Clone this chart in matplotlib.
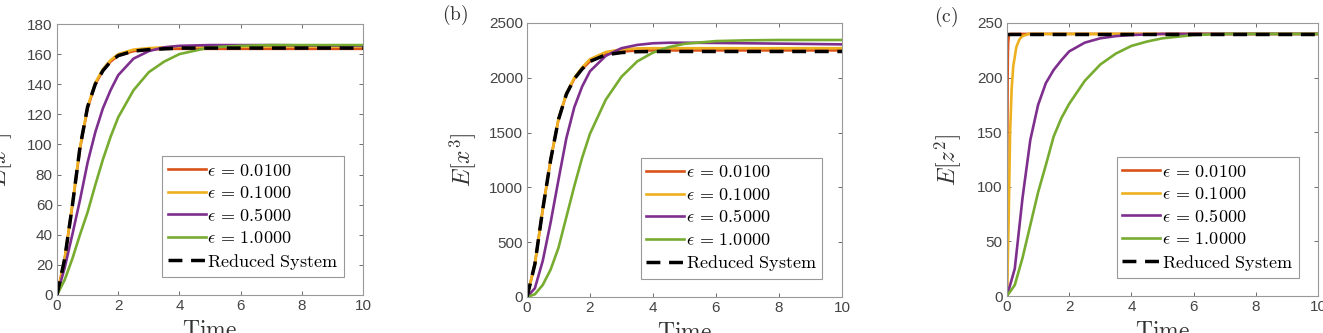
import matplotlib
matplotlib.use("Agg")
import matplotlib.pyplot as plt
import numpy as np

plt.rcParams['mathtext.fontset'] = 'cm'

# ---------------- data ----------------
labels = [r'$\epsilon\, =\, 0.0100$', r'$\epsilon\, =\, 0.1000$',
          r'$\epsilon\, =\, 0.5000$', r'$\epsilon\, =\, 1.0000$',
          r'$\mathrm{Reduced\ System}$']

# Panel (a): E[x^2]
ta = [0, 0.25, 0.5, 0.75, 1.0, 1.25, 1.5, 1.75, 2.0, 2.5, 3.0, 3.5, 4.0, 5.0, 6.0, 7.0, 8.0, 10.0]
a_eps001 = [0, 24, 59, 97, 124, 140, 149, 155, 159, 162, 163, 163.5, 163.5, 163.5, 163.5, 163.5, 163.5, 163.5]
a_eps01 = [0, 24, 60, 98, 125, 141, 150, 156, 160, 163, 164, 164.5, 165, 165, 165, 165, 165, 165]
a_eps05 = [0, 18, 40, 63, 88, 108, 124, 136, 146, 157, 162, 164.5, 165.5, 166, 166, 166, 165.8, 165.5]
a_eps1 = [0, 10, 24, 40, 55, 73, 90, 105, 118, 136, 148, 155, 160, 164.5, 165.5, 166, 166, 166]
a_red = [0, 24, 59, 98, 125, 140, 149, 155, 159, 162, 163, 163.5, 164, 164, 164, 164, 164, 164]

# Panel (b): E[x^3]
tb = [0, 0.25, 0.5, 0.75, 1.0, 1.25, 1.5, 1.75, 2.0, 2.5, 3.0, 3.5, 4.0, 4.5, 5.0, 6.0, 7.0, 8.0, 10.0]
b_eps001 = [0, 300, 800, 1250, 1620, 1850, 1990, 2080, 2150, 2215, 2240, 2248, 2250, 2250, 2250, 2250, 2250, 2250, 2250]
b_eps01 = [0, 300, 800, 1250, 1625, 1860, 2000, 2095, 2170, 2235, 2260, 2268, 2270, 2270, 2270, 2270, 2270, 2270, 2270]
b_eps05 = [0, 80, 330, 680, 1070, 1450, 1730, 1920, 2060, 2200, 2270, 2300, 2315, 2320, 2320, 2318, 2315, 2312, 2305]
b_eps1 = [0, 25, 110, 250, 450, 730, 1010, 1270, 1490, 1800, 2010, 2150, 2230, 2280, 2310, 2335, 2342, 2345, 2345]
b_red = [0, 300, 800, 1250, 1620, 1850, 1990, 2080, 2150, 2210, 2230, 2238, 2240, 2240, 2240, 2240, 2240, 2240, 2240]

# Panel (c): E[z^2]
tc_fast = [0, 0.01, 0.02, 0.03, 0.04, 0.06, 0.08, 0.1, 0.2, 10.0]
c_eps001 = [0, 140, 200, 224, 233, 238.5, 239.5, 240, 240, 240]
tc_mid = [0, 0.05, 0.1, 0.15, 0.2, 0.3, 0.4, 0.5, 0.7, 1.0, 10.0]
c_eps01 = [0, 65, 150, 190, 210, 228, 235, 238, 240, 240, 240]
tc = [0, 0.25, 0.5, 0.75, 1.0, 1.25, 1.5, 1.75, 2.0, 2.5, 3.0, 3.5, 4.0, 4.5, 5.0, 6.0, 7.0, 10.0]
c_eps05 = [0, 25, 90, 143, 175, 195, 207, 216, 224, 232, 236, 238, 239, 239.5, 240, 240, 240, 240]
c_eps1 = [0, 10, 35, 65, 95, 120, 146, 163, 176, 197, 212, 222, 229, 233, 236, 239, 240, 240]
tc_red = [0, 10.0]
c_red = [240, 240]

colors = ['#D95319', '#EDB120', '#7E2F8E', '#77AC30']

W, H = 1323, 333
fig = plt.figure(figsize=(W / 100, H / 100), dpi=100)

def axes_px(x0, x1, y0, y1):
    return fig.add_axes([x0 / W, 1 - y1 / H, (x1 - x0) / W, (y1 - y0) / H])

axA = axes_px(57, 363, 24, 295)
axB = axes_px(527, 842, 23, 297)
axC = axes_px(1007, 1318, 23, 296)

panels = [
    (axA, [(ta, a_eps001), (ta, a_eps01), (ta, a_eps05), (ta, a_eps1)], (ta, a_red),
     (0, 180), np.arange(0, 181, 20), r'$E[x^2]$', -0.14),
    (axB, [(tb, b_eps001), (tb, b_eps01), (tb, b_eps05), (tb, b_eps1)], (tb, b_red),
     (0, 2500), np.arange(0, 2501, 500), r'$E[x^3]$', -0.155),
    (axC, [(tc_fast, c_eps001), (tc_mid, c_eps01), (tc, c_eps05), (tc, c_eps1)], (tc_red, c_red),
     (0, 250), np.arange(0, 251, 50), r'$E[z^2]$', -0.141),
]

for ax, series, red, ylim, yticks, ylab, ylx in panels:
    handles = []
    for (t, v), col in zip(series, colors):
        h, = ax.plot(t, v, color=col, lw=1.9)
        handles.append(h)
    h, = ax.plot(red[0], red[1], color='black', lw=2.5, ls=(0, (4, 2.5)))
    handles.append(h)
    ax.set_xlim(0, 10)
    ax.set_ylim(*ylim)
    ax.set_xticks(np.arange(0, 11, 2))
    ax.set_yticks(yticks)
    ax.tick_params(direction='in', top=True, right=True, length=3, width=0.6,
                   color='#555555', labelcolor='#444444', labelsize=11, pad=3)
    for lab in ax.get_xticklabels() + ax.get_yticklabels():
        lab.set_fontfamily('Liberation Sans')
    for s in ax.spines.values():
        s.set_color('#999999')
        s.set_linewidth(0.8)
    ax.set_xlabel(r'$\mathrm{Time}$', fontsize=17, color='#333333')
    ax.xaxis.set_label_coords(0.5, -0.084)
    ax.xaxis.label.set_va('top')
    ax.set_ylabel(ylab, fontsize=17, color='#333333')
    ax.yaxis.set_label_coords(ylx, 0.5)
    leg = ax.legend(handles, labels, loc='lower right', bbox_to_anchor=(0.938, 0.066),
                    borderaxespad=0, fontsize=13, handlelength=2.1, handletextpad=0.1,
                    labelspacing=0.25, borderpad=0.3, fancybox=False, framealpha=1,
                    edgecolor='#999999')
    leg.get_frame().set_linewidth(0.8)

fig.text(455 / W, 1 - 15 / H, r'$\mathrm{(b)}$', fontsize=14, color='#333333', ha='center', va='center')
fig.text(946 / W, 1 - 17 / H, r'$\mathrm{(c)}$', fontsize=14, color='#333333', ha='center', va='center')

fig.savefig('out.png', dpi=100)
